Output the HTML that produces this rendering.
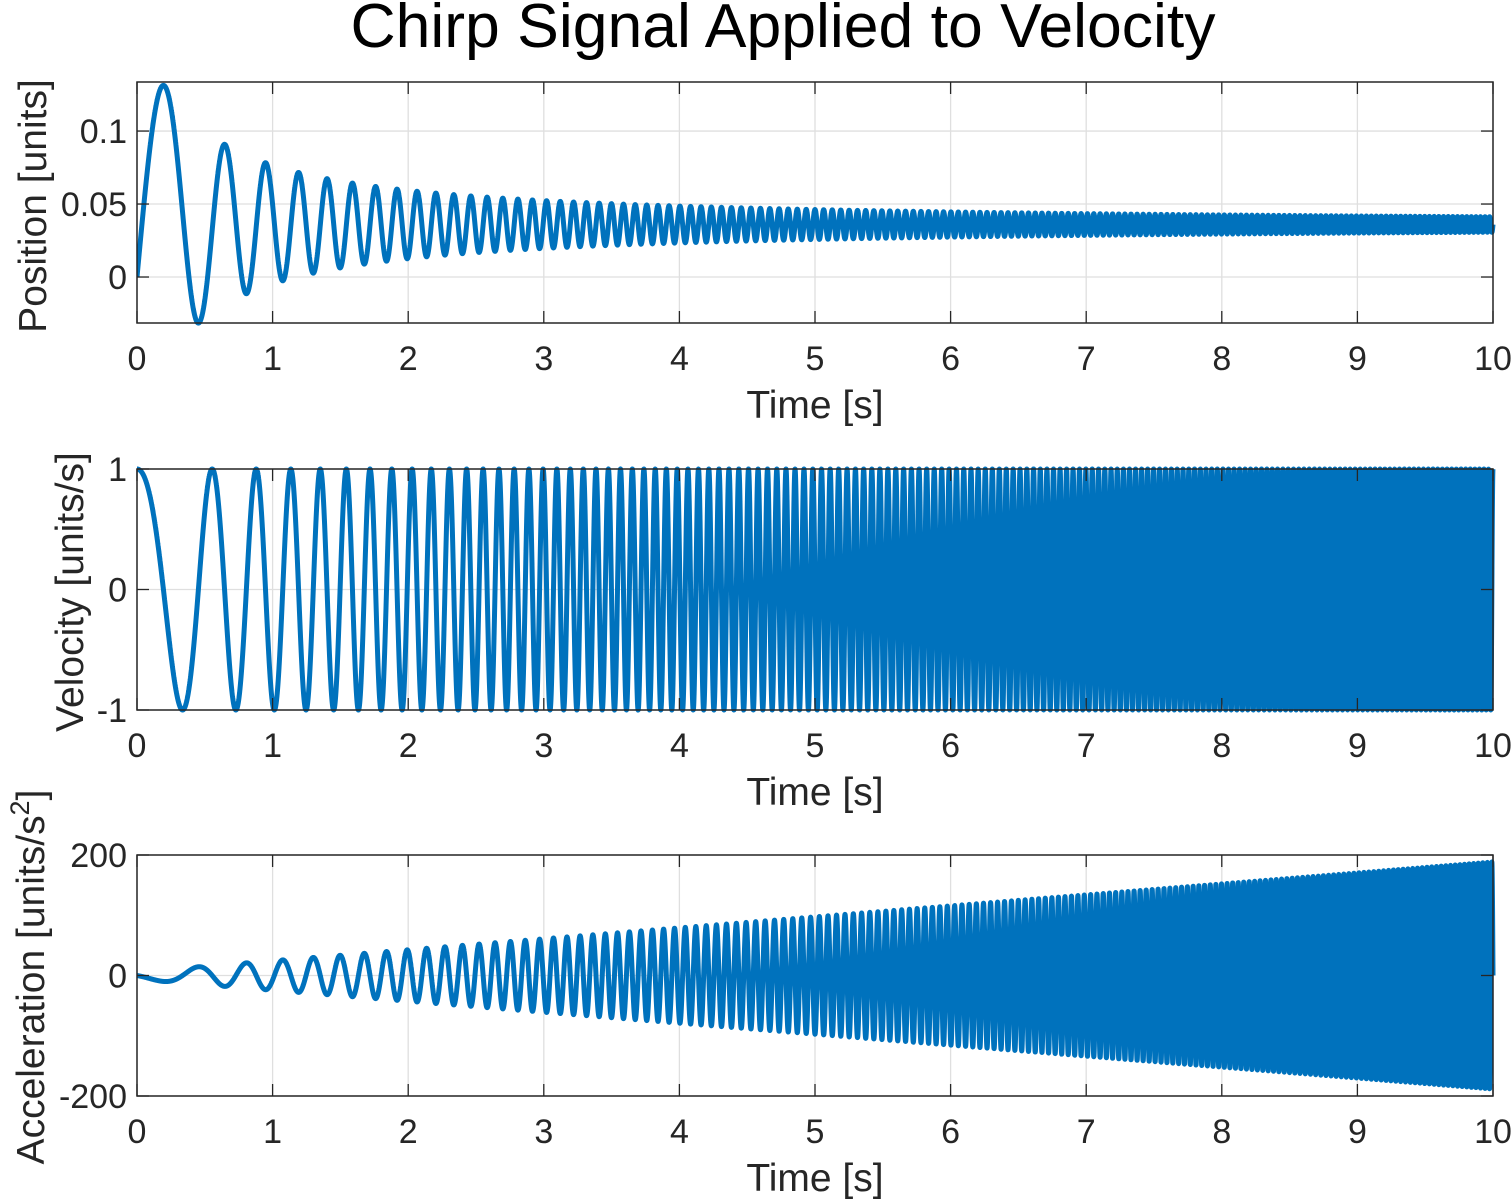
<!DOCTYPE html>
<html><head><meta charset="utf-8">
<style>
body{margin:0;background:#fff;}
svg{display:block;font-family:"Liberation Sans",Arial,sans-serif;}
</style></head>
<body>
<svg id="fig" width="1511" height="1199" viewBox="0 0 1511 1199" xmlns="http://www.w3.org/2000/svg">
<text x="783" y="47" font-size="62.5" text-anchor="middle" fill="#000">Chirp Signal Applied to Velocity</text>
</svg>
<script>
// chirp parameters (start freq Hz, end freq Hz, duration s)
const chirpFreqs = [1, 30];
const duration = [10];
const xTicks = [0,1,2,3,4,5,6,7,8,9,10];
const posTicks = [0, 0.05, 0.1];
const posTickLabels = ["0","0.05","0.1"];
const velTicks = [-1, 0, 1];
const velTickLabels = ["-1","0","1"];
const accTicks = [-200, 0, 200];
const accTickLabels = ["-200","0","200"];
const panelYLabels = ["Position [units]","Velocity [units/s]","Acceleration [units/s²]"];

const NS="http://www.w3.org/2000/svg";
const svg=document.getElementById('fig');
function mk(tag,attrs,parent){const e=document.createElementNS(NS,tag);for(const k in attrs)e.setAttribute(k,attrs[k]);(parent||svg).appendChild(e);return e;}

const T=duration[0], f0=chirpFreqs[0], f1=chirpFreqs[1], k=(f1-f0)/T;
const dt=0.0004, N=Math.round(T/dt);
const ts=[],vel=[],acc=[],pos=[];
let p=0;
for(let i=0;i<=N;i++){
  const t=i*dt;
  const ph=2*Math.PI*(f0*t+k*t*t/2);
  const v=Math.cos(ph);
  ts.push(t);vel.push(v);
  acc.push(-Math.sin(ph)*2*Math.PI*(f0+k*t));
  if(i>0)p+=(v+vel[i-1])/2*dt;
  pos.push(p);
}

const X0=137,X1=1493;
const panels=[
 {name:'position',top:82,bot:323,ymin:-0.0315,ymax:0.1336,ticks:posTicks,labels:posTickLabels,data:pos,lx:46,cy:206},
 {name:'velocity',top:469,bot:710,ymin:-1,ymax:1,ticks:velTicks,labels:velTickLabels,data:vel,lx:83,cy:592},
 {name:'acceleration',top:855,bot:1096,ymin:-200,ymax:200,ticks:accTicks,labels:accTickLabels,data:acc,lx:44,cy:977}
];
panels.forEach((P,pi)=>{
  const xs=v=>X0+(v-0)/(T)*(X1-X0);
  const ys=v=>P.bot-(v-P.ymin)/(P.ymax-P.ymin)*(P.bot-P.top);
  const g=mk('g',{});
  
  
  mk('rect',{x:X0,y:P.top,width:X1-X0,height:P.bot-P.top,fill:'#fff'},g);
  xTicks.forEach(v=>{
    const l=mk('line',{x1:xs(v),x2:xs(v),y1:P.top,y2:P.bot,stroke:'#dfdfdf','stroke-width':1.3},g);
    
    
  });
  P.ticks.forEach(v=>{
    const l=mk('line',{x1:X0,x2:X1,y1:ys(v),y2:ys(v),stroke:'#dfdfdf','stroke-width':1.3},g);
    
    
  });
  let d='';
  for(let i=0;i<ts.length;i++){d+=(i?'L':'M')+xs(ts[i]).toFixed(2)+','+ys(P.data[i]).toFixed(2);}
  const clip=mk('clipPath',{id:'c'+pi},g);
  mk('rect',{x:X0,y:P.top-3,width:X1-X0+3,height:P.bot-P.top+6},clip);
  const path=mk('path',{d:d,fill:'none',stroke:'#0072BD','stroke-width':5,'stroke-linejoin':'round','clip-path':'url(#c'+pi+')'},g);
  
  
  mk('rect',{x:X0,y:P.top,width:X1-X0,height:P.bot-P.top,fill:'none',stroke:'#262626','stroke-width':1.5},g);
  xTicks.forEach(v=>{
    mk('line',{x1:xs(v),x2:xs(v),y1:P.bot,y2:P.bot-12,stroke:'#262626','stroke-width':1.3},g);
    mk('line',{x1:xs(v),x2:xs(v),y1:P.top,y2:P.top+12,stroke:'#262626','stroke-width':1.3},g);
    const t=mk('text',{x:xs(v),y:P.bot+47,'font-size':34,'text-anchor':'middle',fill:'#262626'},g);
    t.textContent=String(v);
    
    
  });
  P.ticks.forEach((v,i)=>{
    mk('line',{x1:X0,x2:X0+12,y1:ys(v),y2:ys(v),stroke:'#262626','stroke-width':1.3},g);
    mk('line',{x1:X1,x2:X1-12,y1:ys(v),y2:ys(v),stroke:'#262626','stroke-width':1.3},g);
    const t=mk('text',{x:X0-10,y:ys(v)+12,'font-size':34,'text-anchor':'end',fill:'#262626'},g);
    t.textContent=P.labels[i];
    
    
  });
  const xl=mk('text',{x:(X0+X1)/2,y:P.bot+95,'font-size':39,'text-anchor':'middle',fill:'#262626'},g);
  xl.textContent='Time [s]';
  
  
  const yl=mk('text',{x:0,y:0,'font-size':39,'text-anchor':'middle',fill:'#262626',transform:'translate('+P.lx+','+P.cy+') rotate(-90)'},g);
  
  
  if(pi===2){
    yl.textContent='Acceleration [units/s';
    const sup=mk('tspan',{'font-size':27,dy:-15},yl);sup.textContent='2';
    const rb=mk('tspan',{'font-size':39,dy:15},yl);rb.textContent=']';
  } else yl.textContent=panelYLabels[pi];
});
</script>
</body></html>
